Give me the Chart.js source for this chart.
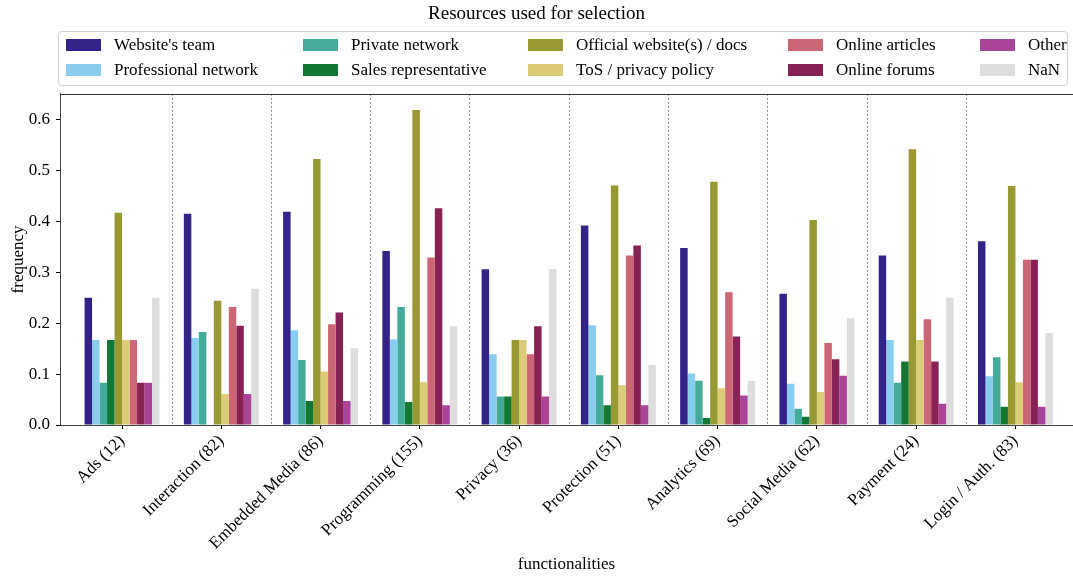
<!DOCTYPE html>
<html>
<head>
<meta charset="utf-8">
<script src="https://cdn.jsdelivr.net/npm/chart.js@4"></script>
<style>
  body { margin: 0; background: #fff; overflow: hidden; }
  #wrap { position: relative; width: 1073px; height: 577px; }
  #legend {
    position: absolute; left: 58px; top: 31px; width: 1008px; height: 53px;
    border: 1px solid #d0d0d0; border-radius: 4px; background: rgba(255,255,255,0.8);
    font-family: "Liberation Serif", serif; font-size: 17px; color: #000;
  }
  .item { position: absolute; height: 20px; line-height: 20px; white-space: nowrap; }
  .item span.box { position: absolute; left: 0; top: 4px; width: 35px; height: 12px; }
  .item span.txt { position: absolute; left: 48px; top: 0; }
</style>
</head>
<body>
<div id="wrap">
  <canvas id="chart"></canvas>
  <div id="legend"></div>
</div>
<script>
// categories (functionality and sample size)
const categories = ['Ads (12)', 'Interaction (82)', 'Embedded Media (86)', 'Programming (155)', 'Privacy (36)',
    'Protection (51)', 'Analytics (69)', 'Social Media (62)', 'Payment (24)', 'Login / Auth. (83)'];

const seriesNames = ["Website's team", 'Professional network', 'Private network', 'Sales representative',
    'Official website(s) / docs', 'ToS / privacy policy', 'Online articles', 'Online forums', 'Other', 'NaN'];

// frequencies per category, one array per resource
const websitesTeam        = [0.250, 0.415, 0.419, 0.342, 0.306, 0.392, 0.348, 0.258, 0.333, 0.361];
const professionalNetwork = [0.167, 0.171, 0.186, 0.168, 0.139, 0.196, 0.101, 0.081, 0.167, 0.096];
const privateNetwork      = [0.083, 0.183, 0.128, 0.232, 0.056, 0.098, 0.087, 0.032, 0.083, 0.133];
const salesRepresentative = [0.167, 0.000, 0.047, 0.045, 0.056, 0.039, 0.014, 0.016, 0.125, 0.036];
const officialWebsite     = [0.417, 0.244, 0.523, 0.619, 0.167, 0.471, 0.478, 0.403, 0.542, 0.470];
const tosPrivacyPolicy    = [0.167, 0.061, 0.105, 0.084, 0.167, 0.078, 0.072, 0.065, 0.167, 0.084];
const onlineArticles      = [0.167, 0.232, 0.198, 0.329, 0.139, 0.333, 0.261, 0.161, 0.208, 0.325];
const onlineForums        = [0.083, 0.195, 0.221, 0.426, 0.194, 0.353, 0.174, 0.129, 0.125, 0.325];
const other               = [0.083, 0.061, 0.047, 0.039, 0.056, 0.039, 0.058, 0.097, 0.042, 0.036];
const nanValues           = [0.250, 0.268, 0.151, 0.194, 0.306, 0.118, 0.087, 0.210, 0.250, 0.181];

const yTicks = [0.0, 0.1, 0.2, 0.3, 0.4, 0.5, 0.6];

const allSeries = [websitesTeam, professionalNetwork, privateNetwork, salesRepresentative, officialWebsite,
    tosPrivacyPolicy, onlineArticles, onlineForums, other, nanValues];
const colors = ['#332288', '#88CCEE', '#44AA99', '#117733', '#999933',
    '#DDCC77', '#CC6677', '#882255', '#AA4499', '#DDDDDD'];

const FONT = '"Liberation Serif", "Times New Roman", serif';

// legend, filled column by column like matplotlib (ncol=5)
const legendCols = [7, 244, 469, 729, 921];
const legendRows = [3, 28];
const legendEl = document.getElementById('legend');
seriesNames.forEach((name, i) => {
    const item = document.createElement('div');
    item.className = 'item';
    item.style.left = legendCols[Math.floor(i / 2)] + 'px';
    item.style.top = legendRows[i % 2] + 'px';
    item.innerHTML = '<span class="box" style="background:' + colors[i] + '"></span><span class="txt"></span>';
    item.querySelector('.txt').textContent = name;
    legendEl.appendChild(item);
});

// dotted separators between groups + top spine
const framePlugin = {
    id: 'frame',
    beforeDatasetsDraw(chart) {
        const { ctx, chartArea, scales } = chart;
        ctx.save();
        ctx.strokeStyle = '#8a8a8a';
        ctx.lineWidth = 1;
        ctx.setLineDash([2, 2]);
        for (let i = 0; i < categories.length - 1; i++) {
            const x = Math.round(scales.x.getPixelForValue(i + 0.5)) + 0.5;
            ctx.beginPath();
            ctx.moveTo(x, chartArea.top);
            ctx.lineTo(x, chartArea.bottom);
            ctx.stroke();
        }
        ctx.restore();
    },
    afterDraw(chart) {
        const { ctx, chartArea } = chart;
        ctx.save();
        ctx.strokeStyle = '#333';
        ctx.lineWidth = 1;
        ctx.beginPath();
        ctx.moveTo(chartArea.left, Math.round(chartArea.top) + 0.5);
        ctx.lineTo(chartArea.right, Math.round(chartArea.top) + 0.5);
        ctx.stroke();
        ctx.restore();
    }
};

new Chart(document.getElementById('chart'), {
    type: 'bar',
    data: {
        datasets: allSeries.map((values, i) => ({
            label: seriesNames[i],
            data: values.map((v, j) => ({ x: j, y: v })),
            backgroundColor: colors[i],
            borderWidth: 0,
            categoryPercentage: 0.755,
            barPercentage: 1.0
        }))
    },
    options: {
        responsive: true,
        maintainAspectRatio: false,
        animation: false,
        layout: { padding: { left: 0, right: 0, top: 0, bottom: 0 } },
        plugins: {
            legend: { display: false },
            title: {
                display: true,
                text: 'Resources used for selection',
                color: '#000',
                font: { family: FONT, size: 19, weight: 'normal' },
                padding: { top: 3, bottom: 68 }
            }
        },
        scales: {
            x: {
                type: 'linear',
                offset: false,
                min: -0.625,
                max: 9.58,
                afterBuildTicks: scale => { scale.ticks = categories.map((c, i) => ({ value: i })); },
                afterFit: scale => { scale.height = 152; },
                grid: { offset: false, drawOnChartArea: false, drawTicks: true, tickLength: 4, color: '#000' },
                border: { color: '#444', width: 1 },
                ticks: {
                    autoSkip: false,
                    maxRotation: 45,
                    minRotation: 45,
                    padding: 2,
                    color: '#000',
                    font: { family: FONT, size: 17 },
                    callback: value => categories[value]
                },
                title: {
                    display: true,
                    text: 'functionalities',
                    color: '#000',
                    font: { family: FONT, size: 17 },
                    padding: { top: 0, bottom: 2 }
                }
            },
            y: {
                min: 0,
                max: 0.651,
                afterBuildTicks: scale => { scale.ticks = yTicks.map(v => ({ value: v })); },
                afterFit: scale => { scale.width = 60; },
                grid: { drawOnChartArea: false, drawTicks: true, tickLength: 4, color: '#000' },
                border: { color: '#444', width: 1 },
                ticks: {
                    padding: 6,
                    color: '#000',
                    font: { family: FONT, size: 17 },
                    callback: value => value.toFixed(1)
                },
                title: {
                    display: true,
                    text: 'frequency',
                    color: '#000',
                    font: { family: FONT, size: 17 },
                    padding: { top: 8, bottom: 0 }
                }
            }
        }
    },
    plugins: [framePlugin]
});
</script>
</body>
</html>
